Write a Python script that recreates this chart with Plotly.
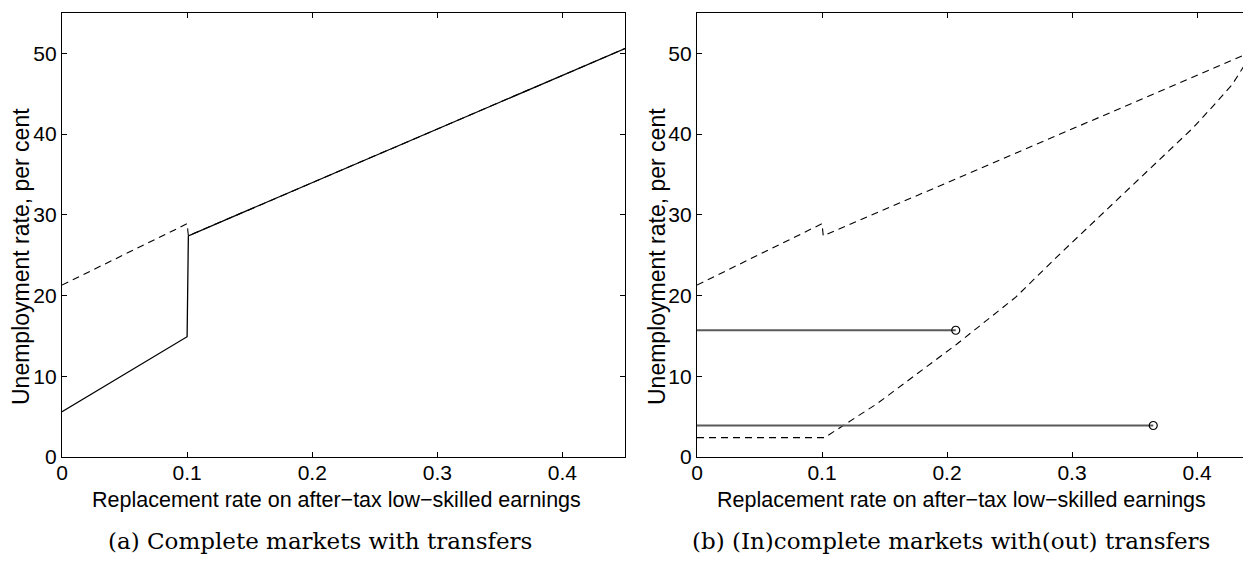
import plotly.graph_objects as go

# ---------------- data ----------------
# Panel (a): complete markets with transfers
a_solid_x = [0.0, 0.1, 0.101, 0.45]
a_solid_y = [5.6, 14.9, 27.4, 50.6]
a_dash_x = [0.0, 0.1, 0.101, 0.45]
a_dash_y = [21.3, 28.9, 27.4, 50.6]

# Panel (b): (in)complete markets with(out) transfers
b_dash_up_x = [0.0, 0.1, 0.101, 0.45]
b_dash_up_y = [21.3, 28.9, 27.4, 50.6]
b_dash_lo_x = [0.0, 0.102, 0.117, 0.144, 0.208, 0.255, 0.292, 0.334, 0.366, 0.397, 0.413, 0.428, 0.437, 0.45]
b_dash_lo_y = [2.4, 2.4, 3.9, 6.6, 14.0, 19.8, 25.4, 31.6, 36.2, 40.8, 43.5, 46.1, 48.3, 50.5]
b_solid1_x = [0.0, 0.207]
b_solid1_y = [15.7, 15.7]
b_solid2_x = [0.0, 0.365]
b_solid2_y = [3.9, 3.9]

x_ticks = [0, 0.1, 0.2, 0.3, 0.4]
x_tick_labels = ["0", "0.1", "0.2", "0.3", "0.4"]
y_ticks = [0, 10, 20, 30, 40, 50]
y_tick_labels = ["0", "10", "20", "30", "40", "50"]

x_title = "Replacement rate on after\u2212tax low\u2212skilled earnings"
y_title = "Unemployment rate, per cent"
caption_a = "(a) Complete markets with transfers"
caption_b = "(b) (In)complete markets with(out) transfers"

# ---------------- figure ----------------
SCREEN_W, SCREEN_H = 1251, 579
OFF = 8  # default page body margin
W, H = SCREEN_W - OFF, SCREEN_H - OFF


def fx(px):
    return (px - OFF) / W


def fy(py):
    return (H - (py - OFF)) / H


fig = go.Figure()

DASH = "7px,5px"
fig.add_trace(go.Scatter(x=a_dash_x, y=a_dash_y, mode="lines",
                         line=dict(color="black", width=1.1, dash=DASH),
                         xaxis="x", yaxis="y", showlegend=False))
fig.add_trace(go.Scatter(x=a_solid_x, y=a_solid_y, mode="lines",
                         line=dict(color="black", width=1.3),
                         xaxis="x", yaxis="y", showlegend=False))

fig.add_trace(go.Scatter(x=b_dash_up_x, y=b_dash_up_y, mode="lines",
                         line=dict(color="black", width=1.1, dash=DASH),
                         xaxis="x2", yaxis="y2", showlegend=False))
fig.add_trace(go.Scatter(x=b_dash_lo_x, y=b_dash_lo_y, mode="lines",
                         line=dict(color="black", width=1.1, dash=DASH),
                         xaxis="x2", yaxis="y2", showlegend=False))
for sx, sy in [(b_solid1_x, b_solid1_y), (b_solid2_x, b_solid2_y)]:
    fig.add_trace(go.Scatter(x=sx, y=sy, mode="lines",
                             line=dict(color="#5a5a5a", width=1.8),
                             xaxis="x2", yaxis="y2", showlegend=False))
    fig.add_trace(go.Scatter(x=[sx[-1]], y=[sy[-1]], mode="markers",
                             marker=dict(symbol="circle-open", size=8,
                                         color="black", line=dict(width=1.2)),
                             xaxis="x2", yaxis="y2", showlegend=False))

SANS = "Liberation Sans, Arial, sans-serif"
tickfont = dict(family=SANS, size=21, color="black")

y_dom = [fy(457), fy(13)]
ax_common = dict(showline=True, linecolor="black", linewidth=1.3,
                 ticks="inside", ticklen=5, tickcolor="black", tickwidth=1,
                 showgrid=False, zeroline=False, tickfont=tickfont,
                 automargin=False)

fig.update_layout(
    width=W, height=H,
    margin=dict(l=0, r=0, t=0, b=0),
    paper_bgcolor="white", plot_bgcolor="white",
    xaxis=dict(domain=[fx(62), fx(625)], range=[0, 0.45],
               tickvals=x_ticks, ticktext=x_tick_labels, mirror="ticks",
               ticklabelstandoff=-3, anchor="y", **ax_common),
    yaxis=dict(domain=y_dom, range=[0, 55],
               tickvals=y_ticks, ticktext=y_tick_labels, mirror="ticks",
               anchor="x", **ax_common),
    xaxis2=dict(domain=[fx(697), 1.0], range=[0, (SCREEN_W - 697) / 1250.0],
                tickvals=x_ticks, ticktext=x_tick_labels, mirror="ticks",
                ticklabelstandoff=-3, anchor="y2", **ax_common),
    yaxis2=dict(domain=y_dom, range=[0, 55],
                tickvals=y_ticks, ticktext=y_tick_labels, mirror=False,
                anchor="x2", **ax_common),
)

xtitle_font = dict(family=SANS, size=21.5, color="black")
ytitle_font = dict(family=SANS, size=23, color="black")
for cx, ycx in [(336, 21), (961, 657)]:
    fig.add_annotation(text=x_title, x=fx(cx), y=fy(500), xref="paper", yref="paper",
                       showarrow=False, font=xtitle_font, xanchor="center", yanchor="middle")
    fig.add_annotation(text=y_title, x=fx(ycx), y=fy(257), xref="paper", yref="paper",
                       showarrow=False, font=ytitle_font, textangle=-90,
                       xanchor="center", yanchor="middle")

capfont = dict(family="DejaVu Serif, Liberation Serif, serif", size=23, color="black")
fig.add_annotation(text=caption_a, x=fx(320), y=fy(541), xref="paper", yref="paper",
                   showarrow=False, font=capfont, xanchor="center", yanchor="middle")
fig.add_annotation(text=caption_b, x=fx(951), y=fy(541), xref="paper", yref="paper",
                   showarrow=False, font=capfont, xanchor="center", yanchor="middle")

fig.write_html("out.html")
